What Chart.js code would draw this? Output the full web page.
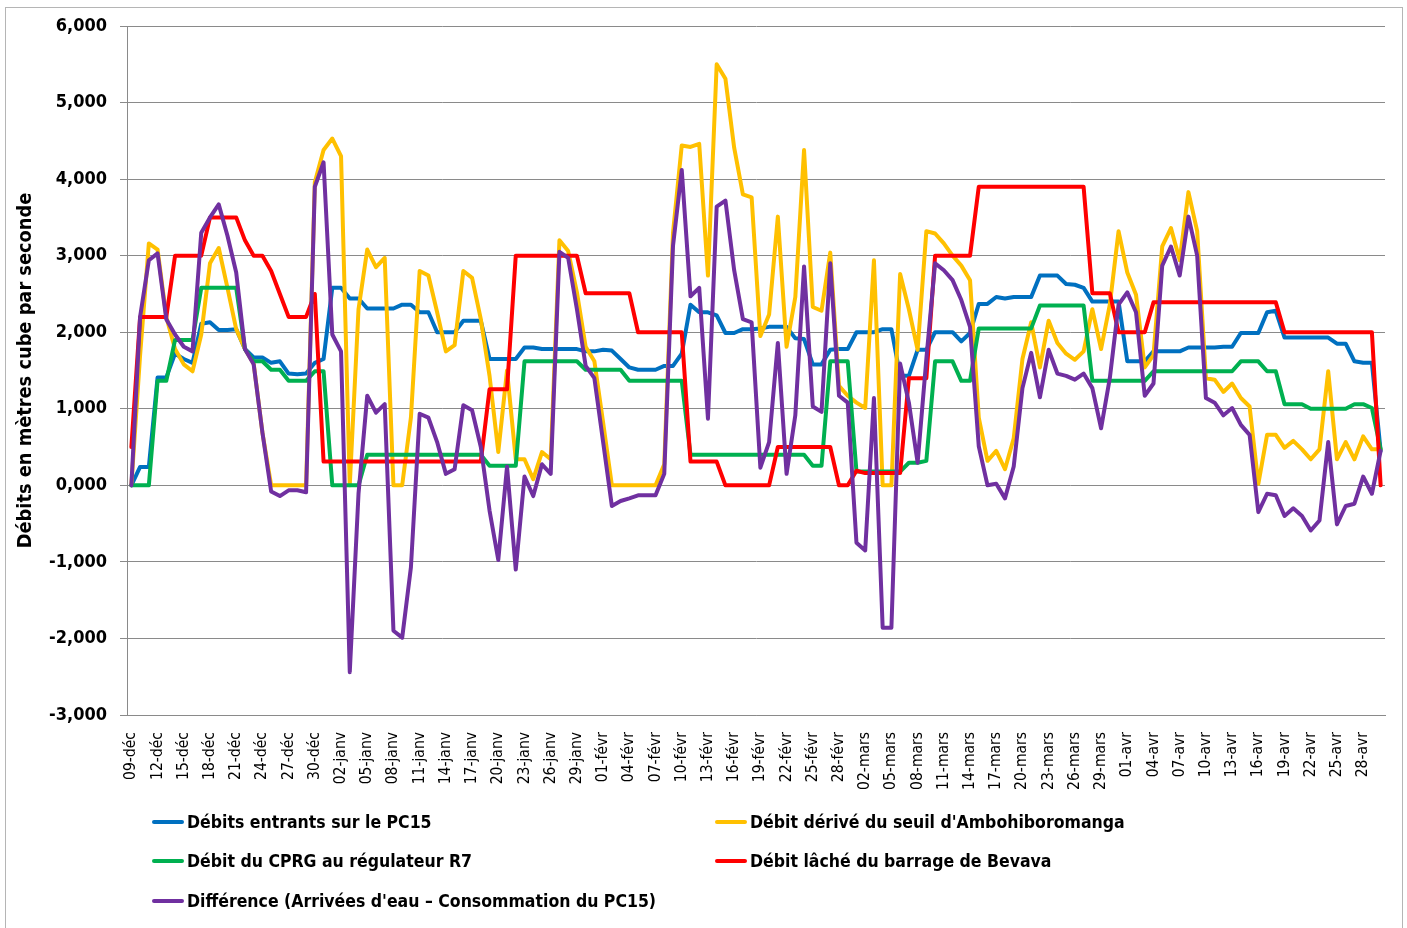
<!DOCTYPE html>
<html lang="fr">
<head>
<meta charset="utf-8">
<title>Débits</title>
<script src="https://cdn.jsdelivr.net/npm/chart.js@4.4.1/dist/chart.umd.min.js"></script>
<style>
  body { margin: 0; background: #fff; }
  #cadre { position: absolute; left: 5px; top: 7px; width: 1398px; height: 940px; border: 1px solid #b5b5b5; box-sizing: border-box; }
  #graphique { position: absolute; left: 0; top: 0; }
  .legende { position: absolute; display: flex; align-items: center; height: 24px;
             font: bold 17.5px 'DejaVu Sans Condensed', 'DejaVu Sans', sans-serif; color: #000; white-space: nowrap; }
  .legende .trait { display: inline-block; width: 32px; height: 4px; border-radius: 2px; margin-right: 3px; }
</style>
</head>
<body>
<div id="cadre"></div>
<canvas id="graphique" width="1407" height="928"></canvas>

<div class="legende" style="left:152px; top:810px;"><span class="trait" style="background:#0070C0"></span>Débits entrants sur le PC15</div>
<div class="legende" style="left:715px; top:810px;"><span class="trait" style="background:#FFC000"></span>Débit dérivé du seuil d'Ambohiboromanga</div>
<div class="legende" style="left:152px; top:849px;"><span class="trait" style="background:#00B050"></span>Débit du CPRG au régulateur R7</div>
<div class="legende" style="left:715px; top:849px;"><span class="trait" style="background:#FF0000"></span>Débit lâché du barrage de Bevava</div>
<div class="legende" style="left:152px; top:889px;"><span class="trait" style="background:#7030A0"></span>Différence (Arrivées d'eau – Consommation du PC15)</div>

<script>
// Jours : du 09-déc au 30-avr (année bissextile)
const mois = ['déc', 'janv', 'févr', 'mars', 'avr'];
const premierJour = [9, 1, 1, 1, 1];
const dernierJour = [31, 31, 29, 31, 30];

// Débits (m3/s)
const debitsEntrants = [
    0, 240, 240, 1410, 1410, 1720, 1650, 1600, 2110, 2130, 2030, 2030,
    2040, 1780, 1670, 1670, 1600, 1620, 1460, 1450, 1460, 1600, 1650, 2580,
    2580, 2440, 2440, 2310, 2310, 2310, 2310, 2360, 2360, 2260, 2260, 2000,
    2000, 2000, 2150, 2150, 2150, 1650, 1650, 1650, 1650, 1800, 1800, 1780,
    1780, 1780, 1780, 1780, 1750, 1750, 1770, 1760, 1650, 1540, 1510, 1510,
    1510, 1560, 1560, 1720, 2360, 2260, 2260, 2220, 1990, 1990, 2040, 2040,
    2050, 2070, 2070, 2070, 1920, 1910, 1580, 1580, 1770, 1780, 1780, 2000,
    2000, 2000, 2040, 2040, 1430, 1430, 1770, 1770, 2000, 2000, 2000, 1880,
    1990, 2370, 2370, 2460, 2440, 2460, 2460, 2460, 2740, 2740, 2740, 2630,
    2620, 2580, 2400, 2400, 2400, 2400, 1620, 1620, 1620, 1750, 1750, 1750,
    1750, 1800, 1800, 1800, 1800, 1810, 1810, 1990, 1990, 1990, 2260, 2280,
    1930, 1930, 1930, 1930, 1930, 1930, 1850, 1850, 1620, 1600, 1600, 450
];
const debitDerive = [
    0, 1700, 3160, 3080, 2200, 1780, 1580, 1490, 1970, 2900, 3100, 2580,
    2040, 1780, 1590, 690, 0, 0, 0, 0, 0, 3960, 4380, 4530,
    4300, 0, 2300, 3080, 2850, 2970, 0, 0, 885, 2800, 2740, 2260,
    1750, 1830, 2800, 2710, 2170, 1430, 435, 1500, 340, 340, 80, 435,
    340, 3200, 3060, 2520, 1810, 1620, 820, 0, 0, 0, 0, 0,
    0, 275, 3300, 4440, 4420, 4460, 2740, 5500, 5310, 4410, 3800, 3760,
    1950, 2230, 3510, 1810, 2460, 4380, 2330, 2280, 3040, 1300, 1170, 1080,
    1010, 2940, 0, 0, 2760, 2300, 1770, 3320, 3290, 3160, 3000, 2870,
    2680, 885, 320, 450, 210, 615, 1650, 2130, 1540, 2150, 1860, 1720,
    1640, 1750, 2300, 1780, 2360, 3320, 2780, 2490, 1540, 1700, 3120, 3360,
    2940, 3830, 3320, 1400, 1380, 1220, 1330, 1140, 1030, 20, 660, 660,
    490, 580, 470, 340, 470, 1490, 340, 565, 340, 640, 470, 470
];
const debitCPRG = [
    0, 0, 0, 1365, 1365, 1900, 1900, 1900, 2580, 2580, 2580, 2580,
    2580, 1780, 1620, 1620, 1510, 1510, 1365, 1365, 1365, 1490, 1490, 0,
    0, 0, 0, 400, 400, 400, 400, 400, 400, 400, 400, 400,
    400, 400, 400, 400, 400, 255, 255, 255, 255, 1620, 1620, 1620,
    1620, 1620, 1620, 1620, 1510, 1510, 1510, 1510, 1510, 1365, 1365, 1365,
    1365, 1365, 1365, 1365, 400, 400, 400, 400, 400, 400, 400, 400,
    400, 400, 400, 400, 400, 400, 255, 255, 1620, 1620, 1620, 180,
    180, 180, 180, 180, 180, 295, 295, 320, 1620, 1620, 1620, 1365,
    1365, 2050, 2050, 2050, 2050, 2050, 2050, 2050, 2350, 2350, 2350, 2350,
    2350, 2350, 1365, 1365, 1365, 1365, 1365, 1365, 1365, 1490, 1490, 1490,
    1490, 1490, 1490, 1490, 1490, 1490, 1490, 1620, 1620, 1620, 1490, 1490,
    1060, 1060, 1060, 1000, 1000, 1000, 1000, 1000, 1060, 1060, 1010, 470
];
const debitLache = [
    500, 2200, 2200, 2200, 2200, 3000, 3000, 3000, 3000, 3500, 3500, 3500,
    3500, 3200, 3000, 3000, 2800, 2500, 2200, 2200, 2200, 2500, 310, 310,
    310, 310, 310, 310, 310, 310, 310, 310, 310, 310, 310, 310,
    310, 310, 310, 310, 310, 1255, 1255, 1255, 3000, 3000, 3000, 3000,
    3000, 3000, 3000, 3000, 2510, 2510, 2510, 2510, 2510, 2510, 2000, 2000,
    2000, 2000, 2000, 2000, 310, 310, 310, 310, 0, 0, 0, 0,
    0, 0, 500, 500, 500, 500, 500, 500, 500, 0, 0, 190,
    160, 160, 160, 160, 160, 1400, 1400, 1400, 3000, 3000, 3000, 3000,
    3000, 3900, 3900, 3900, 3900, 3900, 3900, 3900, 3900, 3900, 3900, 3900,
    3900, 3900, 2510, 2510, 2510, 2000, 2000, 2000, 2000, 2390, 2390, 2390,
    2390, 2390, 2390, 2390, 2390, 2390, 2390, 2390, 2390, 2390, 2390, 2390,
    2000, 2000, 2000, 2000, 2000, 2000, 2000, 2000, 2000, 2000, 2000, 0
];
const difference = [
    0, 2200, 2940, 3030, 2170, 1970, 1810, 1750, 3300, 3500, 3670, 3260,
    2780, 1780, 1580, 690, -80, -140, -65, -65, -90, 3900, 4220, 1970,
    1750, -2440, -110, 1170, 950, 1060, -1900, -1990, -1070, 935, 885, 565,
    150, 210, 1045, 980, 500, -330, -975, 245, -1100, 115, -140, 275,
    150, 3050, 2970, 2300, 1560, 1400, 565, -270, -205, -170, -130, -130,
    -130, 150, 3130, 4120, 2470, 2580, 870, 3640, 3720, 2810, 2170, 2130,
    230, 565, 1860, 150, 915, 2860, 1030, 960, 2900, 1170, 1080, -750,
    -850, 1140, -1860, -1860, 1590, 1080, 295, 1650, 2900, 2810, 2680, 2420,
    2070, 510, 0, 20, -170, 245, 1270, 1730, 1150, 1770, 1460, 1430,
    1380, 1460, 1270, 745, 1400, 2360, 2520, 2260, 1170, 1330, 2870, 3120,
    2740, 3510, 3000, 1140, 1080, 915, 1010, 790, 660, -350, -110, -130,
    -400, -300, -400, -590, -460, 565, -510, -270, -240, 115, -110, 450
];

// Étiquettes des jours
const jours = [];
for (let m = 0; m < mois.length; m++) {
    for (let j = premierJour[m]; j <= dernierJour[m]; j++) {
        jours.push(String(j).padStart(2, '0') + '-' + mois[m]);
    }
}

const police = "'DejaVu Sans Condensed', 'DejaVu Sans', sans-serif";
const gris = '#8a8a8a';

function serie(label, data, couleur, ordre) {
    return {
        label: label,
        data: data,
        borderColor: couleur,
        backgroundColor: couleur,
        borderWidth: 4,
        pointRadius: 0,
        tension: 0,
        borderJoinStyle: 'round',
        borderCapStyle: 'round',
        order: ordre
    };
}

const ctx = document.getElementById('graphique').getContext('2d');
new Chart(ctx, {
    type: 'line',
    data: {
        labels: jours,
        datasets: [
            serie('Débits entrants sur le PC15', debitsEntrants, '#0070C0', 5),
            serie("Débit dérivé du seuil d'Ambohiboromanga", debitDerive, '#FFC000', 4),
            serie('Débit du CPRG au régulateur R7', debitCPRG, '#00B050', 3),
            serie('Débit lâché du barrage de Bevava', debitLache, '#FF0000', 2),
            serie("Différence (Arrivées d'eau – Consommation du PC15)", difference, '#7030A0', 1)
        ]
    },
    options: {
        responsive: false,
        animation: false,
        layout: { padding: { left: 0, top: 26, right: 22, bottom: 0 } },
        plugins: {
            legend: { display: false },
            tooltip: { enabled: false }
        },
        scales: {
            x: {
                offset: true,
                grid: { display: false, drawTicks: false },
                border: { display: true, color: gris },
                ticks: {
                    autoSkip: false,
                    maxRotation: 90,
                    minRotation: 90,
                    padding: 17,
                    color: '#000',
                    font: { family: police, size: 15.5 },
                    callback: (v, i) => (i % 3 === 0 ? jours[i] : null)
                },
                afterFit: (s) => { s.height = 213; }
            },
            y: {
                min: -3000,
                max: 6000,
                grid: { color: gris, tickLength: 7 },
                border: { display: true, color: gris },
                ticks: {
                    stepSize: 1000,
                    padding: 13,
                    color: '#000',
                    font: { family: police, size: 18, weight: 'bold' },
                    callback: (v) => (v < 0 ? '-' : '') + Math.abs(v / 1000) + ',000'
                },
                title: {
                    display: true,
                    text: 'Débits en mètres cube par seconde',
                    color: '#000',
                    font: { family: police, size: 19.8, weight: 'bold' },
                    padding: { top: 14, bottom: 0 }
                },
                afterFit: (s) => { s.width = 127; }
            }
        }
    }
});
</script>
</body>
</html>
